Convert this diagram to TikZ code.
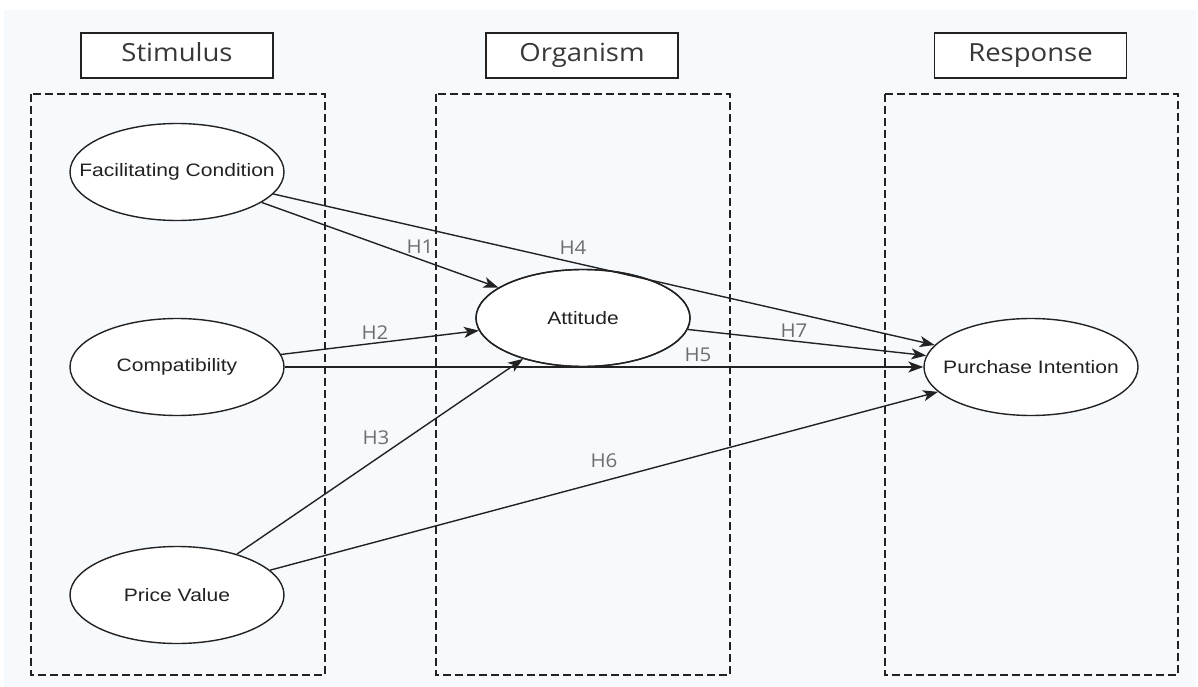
\documentclass[tikz,border=0pt]{standalone}
\usepackage{fontspec}
\usetikzlibrary{shapes.geometric,arrows.meta}
\newfontfamily\headfont[FakeStretch=1.1]{Open Sans}
\newfontfamily\nodefont[FakeStretch=1.17]{Liberation Sans}
\newfontfamily\hypfont[FakeStretch=1.08]{Open Sans}
\definecolor{panel}{HTML}{F7FAFD}
\definecolor{ink}{HTML}{222222}
\definecolor{hypgray}{HTML}{6E6E6E}
\tikzset{
  headbox/.style={draw=ink, line width=1.3pt, fill=white, minimum width=192pt, minimum height=45pt,
                  inner sep=0pt, text height=18pt, text depth=5pt,
                  font=\headfont\fontsize{25}{28}\selectfont, text=ink!90},
  stagebox/.style={draw=ink, line width=1.2pt, dash pattern=on 8pt off 4pt},
  construct/.style={draw=ink, line width=1.4pt, ellipse, fill=white, minimum width=214pt,
                    minimum height=97pt, inner sep=0pt, font=\nodefont\fontsize{18}{20}\selectfont, text=ink},
  path/.style={draw=ink, line width=1.4pt, -{Stealth[length=15pt, width=11pt, inset=4pt]}},
  hyp/.style={font=\hypfont\fontsize{19}{22}\selectfont, text=hypgray, inner sep=0pt}
}
\newcommand{\ctext}[1]{\makebox[0pt]{#1}}
\begin{document}
\begin{tikzpicture}[x=1pt, y=-1pt]
  \useasboundingbox (0,0) rectangle (1198,687);
  \fill[white] (0,0) rectangle (1198,687);
  \fill[panel] (4,10) rectangle (1196,687);

  % stage headers
  \node[headbox] (hs) at (177,55.5) {Stimulus};
  \node[headbox] (ho) at (582,55.5) {Organism};
  \node[headbox] (hr) at (1030.5,55.5) {Response};

  % stage frames
  \draw[stagebox] (31,94) rectangle (325,675);
  \draw[stagebox] (436,94) rectangle (730,675);
  \draw[stagebox] (885,94) rectangle (1178,675);

  % constructs
  \node[construct] (fc) at (177,172) {\ctext{Facilitating Condition}};
  \node[construct] (cp) at (177,367) {\ctext{Compatibility}};
  \node[construct] (pv) at (177,595) {\ctext{Price Value}};
  \node[construct] (at) at (583,318) {\ctext{Attitude}};
  \node[construct] (pi) at (1031,367) {\ctext{Purchase Intention}};

  % hypothesised paths
  \draw[path] (fc) -- (at);
  \draw[path] (fc) -- (pi);
  \draw[path] (cp) -- (at);
  \draw[path] (cp) -- (pi);
  \draw[path] (at) -- (pi);
  \draw[path] (pv) -- (at);
  \draw[path] (pv) -- (pi);

  % redraw the Attitude outline over the crossing lines
  \node[construct, fill=none] (at2) at (583,318) {};

  % hypothesis labels
  \node[hyp] (h1) at (420,247) {H1};
  \node[hyp] (h4) at (573,248) {H4};
  \node[hyp] (h2) at (375,333) {H2};
  \node[hyp] (h7) at (794,331) {H7};
  \node[hyp] (h5) at (698,355) {H5};
  \node[hyp] (h3) at (376,438) {H3};
  \node[hyp] (h6) at (604,461) {H6};
\end{tikzpicture}
\end{document}
